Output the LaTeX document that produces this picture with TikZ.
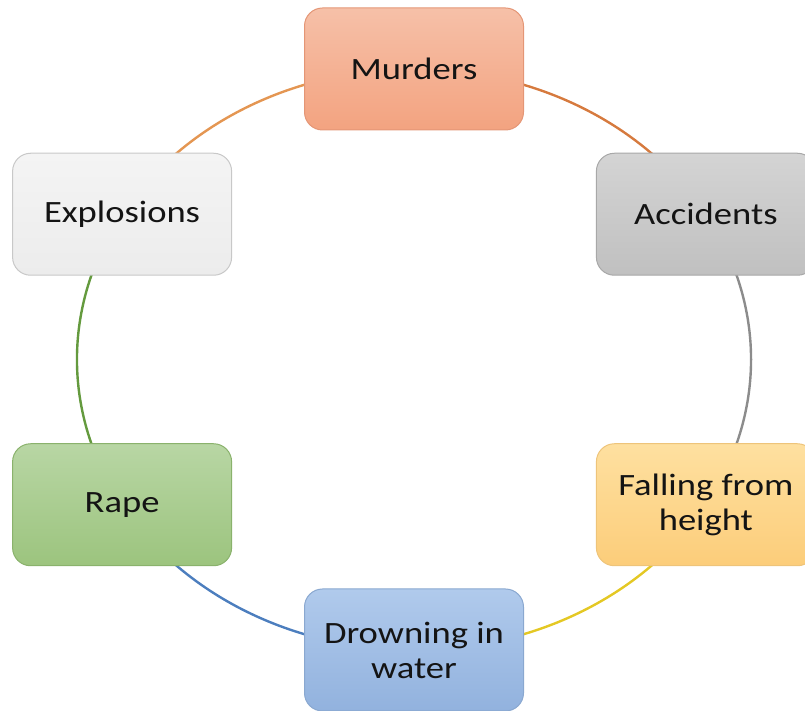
\documentclass[tikz,border=0pt]{standalone}
\usepackage{fontspec}
\setmainfont{Carlito}[FakeStretch=1.18]
\usetikzlibrary{backgrounds}
\definecolor{mTop}{RGB}{246,192,168}
\definecolor{mBot}{RGB}{243,163,128}
\definecolor{mLine}{RGB}{228,150,118}
\definecolor{aTop}{RGB}{212,212,212}
\definecolor{aBot}{RGB}{192,192,192}
\definecolor{aLine}{RGB}{168,168,168}
\definecolor{fTop}{RGB}{254,224,160}
\definecolor{fBot}{RGB}{252,205,122}
\definecolor{fLine}{RGB}{238,196,122}
\definecolor{dTop}{RGB}{176,202,236}
\definecolor{dBot}{RGB}{146,178,222}
\definecolor{dLine}{RGB}{138,168,208}
\definecolor{rTop}{RGB}{184,214,164}
\definecolor{rBot}{RGB}{156,196,126}
\definecolor{rLine}{RGB}{138,178,108}
\definecolor{eTop}{RGB}{244,244,244}
\definecolor{eBot}{RGB}{236,236,236}
\definecolor{eLine}{RGB}{200,200,200}
\definecolor{cMA}{RGB}{214,122,62}
\definecolor{cAF}{RGB}{140,140,140}
\definecolor{cFD}{RGB}{228,200,36}
\definecolor{cDR}{RGB}{76,126,190}
\definecolor{cRE}{RGB}{100,154,62}
\definecolor{cEM}{RGB}{228,150,82}
\definecolor{txt}{RGB}{20,20,20}
\tikzset{
  cyclebox/.style={rounded corners=18pt, minimum width=219pt, minimum height=122pt,
    inner sep=0pt, line width=1pt, align=center, text=txt,
    font=\fontsize{31}{35}\selectfont},
  cyclearc/.style={line width=2.4pt, line cap=round},
}
\begin{document}
\begin{tikzpicture}[x=1pt,y=1pt]
\useasboundingbox (0,0) rectangle (805,711);
\def\rx{337pt}
\def\ry{290.5pt}
\node[cyclebox, draw=mLine, top color=mTop, bottom color=mBot] (m) at (414,642) {Murders};
\node[cyclebox, draw=aLine, top color=aTop, bottom color=aBot] (a) at (705.9,496.75) {Accidents};
\node[cyclebox, draw=fLine, top color=fTop, bottom color=fBot] (f) at (705.9,206.25) {Falling from\\height};
\node[cyclebox, draw=dLine, top color=dTop, bottom color=dBot] (d) at (414,61) {Drowning in\\water};
\node[cyclebox, draw=rLine, top color=rTop, bottom color=rBot] (r) at (122.1,206.25) {Rape};
\node[cyclebox, draw=eLine, top color=eTop, bottom color=eBot] (e) at (122.1,496.75) {Explosions};
\begin{pgfonlayer}{background}
\draw[cyclearc, cMA] (m.center) arc[start angle=90, end angle=30, x radius=\rx, y radius=\ry];
\draw[cyclearc, cAF] (a.center) arc[start angle=30, end angle=-30, x radius=\rx, y radius=\ry];
\draw[cyclearc, cFD] (f.center) arc[start angle=-30, end angle=-90, x radius=\rx, y radius=\ry];
\draw[cyclearc, cDR] (d.center) arc[start angle=-90, end angle=-150, x radius=\rx, y radius=\ry];
\draw[cyclearc, cRE] (r.center) arc[start angle=210, end angle=150, x radius=\rx, y radius=\ry];
\draw[cyclearc, cEM] (e.center) arc[start angle=150, end angle=90, x radius=\rx, y radius=\ry];
\end{pgfonlayer}
\end{tikzpicture}
\end{document}
